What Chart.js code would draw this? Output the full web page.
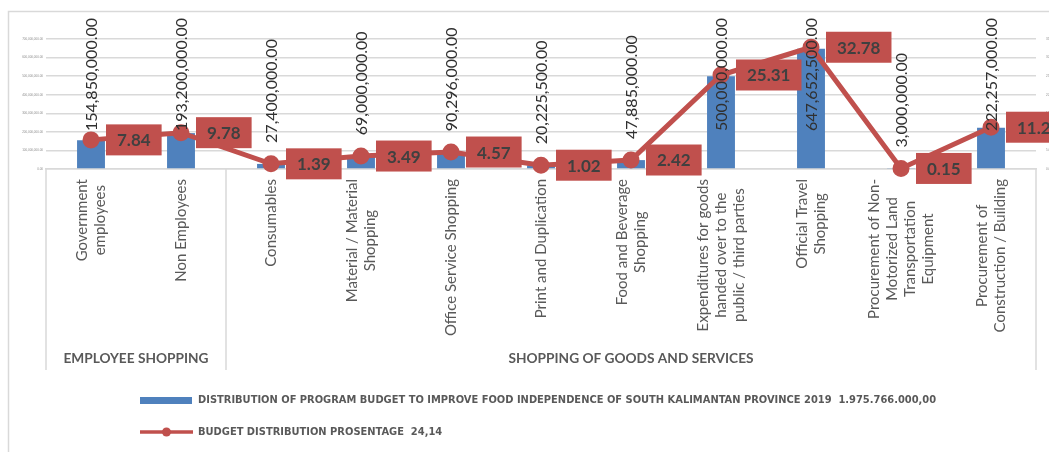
<!DOCTYPE html>
<html>
<head>
<meta charset="utf-8">
<script src="https://cdn.jsdelivr.net/npm/chart.js@4.4.0/dist/chart.umd.min.js"></script>
<style>
  html, body { margin: 0; padding: 0; background: #fff; }
  #chart { display: block; }
</style>
</head>
<body>
<canvas id="chart" width="1049" height="452"></canvas>
<script>
const categories = [
  ['Government', 'employees'],
  ['Non Employees'],
  ['Consumables'],
  ['Material / Material', 'Shopping'],
  ['Office Service Shopping'],
  ['Print and Duplication'],
  ['Food and Beverage', 'Shopping'],
  ['Expenditures for goods', 'handed over to the', 'public / third parties'],
  ['Official Travel', 'Shopping'],
  ['Procurement of Non-', 'Motorized Land', 'Transportation', 'Equipment'],
  ['Procurement of', 'Construction / Building']
];
const groups = ['EMPLOYEE SHOPPING', 'SHOPPING OF GOODS AND SERVICES'];
const groupSizes = [2, 9];

const budget = [154850000, 193200000, 27400000, 69000000, 90296000, 20225500, 47885000, 500000000, 647652500, 3000000, 222257000];
const percent = [7.84, 9.78, 1.39, 3.49, 4.57, 1.02, 2.42, 25.31, 32.78, 0.15, 11.25];

const budgetLabel = 'DISTRIBUTION OF PROGRAM BUDGET TO IMPROVE FOOD INDEPENDENCE OF SOUTH KALIMANTAN PROVINCE 2019  1.975.766.000,00';
const percentLabel = 'BUDGET DISTRIBUTION PROSENTAGE  24,14';

const leftMax = 700000000, leftStep = 100000000;
const rightMax = 35, rightStep = 5;

const blue = '#4f81bd';
const red = '#c0504d';
const grey = '#d9d9d9';

const fmt = v => v.toLocaleString('en-US', { minimumFractionDigits: 2, maximumFractionDigits: 2 });

const decor = {
  id: 'decor',
  beforeDraw(chart) {
    const ctx = chart.ctx;
    ctx.save();
    ctx.strokeStyle = grey;
    ctx.lineWidth = 1.5;
    ctx.beginPath();
    ctx.moveTo(8.5, 470);
    ctx.lineTo(8.5, 11.5);
    ctx.lineTo(1070, 11.5);
    ctx.stroke();
    ctx.restore();
  },
  afterDatasetsDraw(chart) {
    const ctx = chart.ctx;
    const area = chart.chartArea;
    const x = chart.scales.x;
    const step = x.getPixelForValue(1) - x.getPixelForValue(0);

    // group boxes under the axis
    ctx.save();
    ctx.strokeStyle = grey;
    ctx.lineWidth = 1.5;
    let start = 0;
    const edges = [x.getPixelForValue(0) - step / 2];
    groupSizes.forEach(n => {
      start += n;
      edges.push(x.getPixelForValue(start) - step / 2);
    });
    edges.forEach(px => {
      ctx.beginPath();
      ctx.moveTo(px, area.bottom);
      ctx.lineTo(px, area.bottom + 201);
      ctx.stroke();
    });

    ctx.fillStyle = '#595959';
    ctx.font = 'bold 13.7px Lato';
    ctx.textAlign = 'center';
    ctx.textBaseline = 'middle';
    groups.forEach((g, i) => {
      ctx.fillText(g, (edges[i] + edges[i + 1]) / 2, area.bottom + 190);
    });

    // category labels, rotated
    ctx.font = '15px Lato';
    categories.forEach((lines, i) => {
      const maxW = Math.max(...lines.map(l => ctx.measureText(l).width));
      ctx.save();
      ctx.translate(x.getPixelForValue(i), area.bottom + 10);
      ctx.rotate(-Math.PI / 2);
      lines.forEach((l, j) => {
        ctx.fillText(l, -maxW / 2, (j - (lines.length - 1) / 2) * 18);
      });
      ctx.restore();
    });

    // bar value labels
    ctx.fillStyle = '#303030';
    ctx.font = '16px Lato';
    ctx.textAlign = 'left';
    chart.getDatasetMeta(0).data.forEach((bar, i) => {
      const txt = fmt(budget[i]);
      const w = ctx.measureText(txt).width;
      let base = bar.y - 21;
      if (base - w < area.top - 21) base = area.top - 21 + w;
      ctx.save();
      ctx.translate(bar.x + 1, base);
      ctx.rotate(-Math.PI / 2);
      ctx.fillText(txt, 0, 0);
      ctx.restore();
    });

    // percentage boxes
    ctx.font = 'bold 17px Lato';
    ctx.textAlign = 'center';
    chart.getDatasetMeta(1).data.forEach((pt, i) => {
      const txt = percent[i].toFixed(2);
      const w = ctx.measureText(txt).width + 22;
      ctx.fillStyle = red;
      ctx.fillRect(pt.x + 15, pt.y - 15.5, w, 31);
      ctx.fillStyle = '#404040';
      ctx.fillText(txt, pt.x + 15 + w / 2, pt.y + 1);
    });

    // legend
    ctx.fillStyle = blue;
    ctx.fillRect(140, 397, 52, 7);
    ctx.strokeStyle = red;
    ctx.lineWidth = 3.5;
    ctx.beginPath();
    ctx.moveTo(140, 432);
    ctx.lineTo(193, 432);
    ctx.stroke();
    ctx.fillStyle = red;
    ctx.beginPath();
    ctx.arc(166.5, 432, 4.5, 0, Math.PI * 2);
    ctx.fill();

    ctx.fillStyle = '#595959';
    ctx.font = 'bold 11px "Liberation Sans Narrow", "DejaVu Sans Condensed", sans-serif';
    ctx.textAlign = 'left';
    ctx.fillText(budgetLabel, 198, 400);
    ctx.fillText(percentLabel, 198, 432);
    ctx.restore();
  }
};

new Chart(document.getElementById('chart').getContext('2d'), {
  data: {
    labels: categories,
    datasets: [
      {
        type: 'bar',
        label: budgetLabel,
        data: budget,
        backgroundColor: blue,
        categoryPercentage: 1,
        barPercentage: 0.31,
        yAxisID: 'y',
        order: 2
      },
      {
        type: 'line',
        label: percentLabel,
        data: percent,
        borderColor: red,
        borderWidth: 5,
        pointRadius: 6,
        pointBackgroundColor: red,
        pointBorderColor: red,
        tension: 0,
        clip: false,
        yAxisID: 'y1',
        order: 1
      }
    ]
  },
  options: {
    responsive: false,
    animation: false,
    layout: { padding: { top: 39, bottom: 283, left: 0, right: 0 } },
    plugins: {
      legend: { display: false },
      tooltip: { enabled: false }
    },
    scales: {
      x: {
        grid: { display: false },
        ticks: { display: false },
        border: { color: grey, width: 1.5 },
        afterFit: s => { s.height = 0; }
      },
      y: {
        position: 'left',
        min: 0,
        max: leftMax,
        ticks: { stepSize: leftStep, font: { size: 3 }, color: '#8c8c8c', padding: 3, callback: v => fmt(v) },
        grid: { color: grey, lineWidth: 1.5, drawTicks: false },
        border: { display: false },
        afterFit: s => { s.width = 46; }
      },
      y1: {
        position: 'right',
        min: 0,
        max: rightMax,
        ticks: { stepSize: rightStep, font: { size: 3 }, color: '#8c8c8c', padding: 2, callback: v => v.toFixed(2) },
        grid: { display: false },
        border: { display: false },
        afterFit: s => { s.width = 13; }
      }
    }
  },
  plugins: [decor]
});
</script>
</body>
</html>
